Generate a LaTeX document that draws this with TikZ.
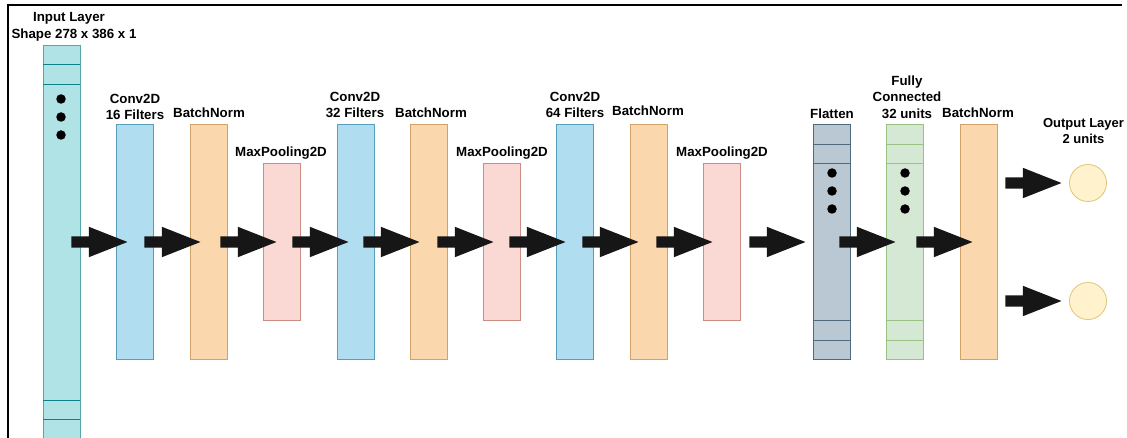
\documentclass[tikz,border=0pt]{standalone}
\usepackage{fontspec}
\setmainfont{Liberation Sans}
\usetikzlibrary{shapes.arrows}
\definecolor{inF}{HTML}{B0E3E6}\definecolor{inD}{HTML}{0E8088}
\definecolor{cvF}{HTML}{B1DDF0}\definecolor{cvD}{HTML}{10739E}
\definecolor{bnF}{HTML}{FAD7AC}\definecolor{bnD}{HTML}{B46504}
\definecolor{mpF}{HTML}{FAD9D5}\definecolor{mpD}{HTML}{AE4132}
\definecolor{flF}{HTML}{BAC8D3}\definecolor{flD}{HTML}{23445D}
\definecolor{fcF}{HTML}{D5E8D4}\definecolor{fcD}{HTML}{82B366}
\definecolor{ouF}{HTML}{FFF2CC}\definecolor{ouD}{HTML}{D6B656}
\definecolor{arrC}{HTML}{161616}
\tikzset{
  layerbox/.style={rectangle, inner sep=0pt, line width=0.9pt, minimum width=37pt},
  tall/.style={layerbox, minimum height=235pt},
  short/.style={layerbox, minimum height=157pt},
  conv/.style={tall, fill=cvF, draw=cvD!70},
  bn/.style={tall, fill=bnF, draw=bnD!60},
  mp/.style={short, fill=mpF, draw=mpD!60},
  flat/.style={tall, fill=flF, draw=flD!80},
  fcl/.style={tall, fill=fcF, draw=fcD!80},
  outc/.style={circle, inner sep=0pt, minimum size=37pt, fill=ouF, draw=ouD!80, line width=0.8pt},
  lbl/.style={inner sep=0pt, align=center, font=\fontsize{13.3}{16.3}\selectfont\bfseries},
  blockarrow/.style={single arrow, fill=arrC, draw=none, inner xsep=0pt, inner ysep=5.5pt,
    minimum height=56pt, single arrow head extend=9.5pt, single arrow tip angle=43, anchor=tip},
  dot/.style={circle, fill=black, inner sep=0pt, minimum size=9.5pt},
  sep/.style={line width=0.9pt}
}
\begin{document}
\begin{tikzpicture}[x=1pt,y=-1pt]
\useasboundingbox (0,0) rectangle (1127,438);
\begin{scope}
\clip (0,0) rectangle (1127,438);
% frame
\draw[line width=2pt] (1122,5) -- (8,5) -- (8,440);
% input layer
\node[layerbox, minimum height=420pt, fill=inF, draw=inD!70] (inp) at (61.5,255) {};
\draw[sep, draw=inD] (43,64) -- (80,64) (43,84) -- (80,84) (43,400) -- (80,400) (43,419) -- (80,419);
\node[dot] (d1) at (61,99) {};
\node[dot] (d2) at (61,117) {};
\node[dot] (d3) at (61,135) {};
% layers
\node[conv] (c1) at (135,241.5) {};
\node[bn]   (b1) at (208.5,241.5) {};
\node[mp]   (m1) at (281.5,241.5) {};
\node[conv] (c2) at (355.5,241.5) {};
\node[bn]   (b2) at (428.5,241.5) {};
\node[mp]   (m2) at (501.5,241.5) {};
\node[conv] (c3) at (575,241.5) {};
\node[bn]   (b3) at (648.5,241.5) {};
\node[mp]   (m3) at (721.5,241.5) {};
\node[flat] (fl) at (832,241.5) {};
\draw[sep, draw=flD!80] (fl.west |- 0,144) -- (fl.east |- 0,144) (fl.west |- 0,163) -- (fl.east |- 0,163)
  (fl.west |- 0,320) -- (fl.east |- 0,320) (fl.west |- 0,340) -- (fl.east |- 0,340);
\node[dot] (fd1) at (832,173) {};
\node[dot] (fd2) at (832,191) {};
\node[dot] (fd3) at (832,209) {};
\node[fcl] (fc) at (905,241.5) {};
\draw[sep, draw=fcD!80] (fc.west |- 0,144) -- (fc.east |- 0,144) (fc.west |- 0,163) -- (fc.east |- 0,163)
  (fc.west |- 0,320) -- (fc.east |- 0,320) (fc.west |- 0,340) -- (fc.east |- 0,340);
\node[dot] (gd1) at (905,173) {};
\node[dot] (gd2) at (905,191) {};
\node[dot] (gd3) at (905,209) {};
\node[bn] (b4) at (978.5,241.5) {};
\node[outc] (o1) at (1088,183) {};
\node[outc] (o2) at (1088,301) {};
% arrows (placed by their tips)
\node[blockarrow] (a1)  at (128,242) {};
\node[blockarrow] (a2)  at (201,242) {};
\node[blockarrow] (a3)  at (277,242) {};
\node[blockarrow] (a4)  at (349,242) {};
\node[blockarrow] (a5)  at (420,242) {};
\node[blockarrow] (a6)  at (494,242) {};
\node[blockarrow] (a7)  at (566,242) {};
\node[blockarrow] (a8)  at (639,242) {};
\node[blockarrow] (a9)  at (713,242) {};
\node[blockarrow] (a10) at (806,242) {};
\node[blockarrow] (a11) at (896,242) {};
\node[blockarrow] (a12) at (973,242) {};
\node[blockarrow] (a13) at (1062,183) {};
\node[blockarrow] (a14) at (1062,301) {};
% labels
\node[lbl] (l0a) at (69,18) {Input Layer};
\node[lbl] (l0b) at (74,35) {Shape 278 x 386 x 1};
\node[lbl] (l1) at (135,107) {Conv2D\\16 Filters};
\node[lbl] (l2) at (209,113) {BatchNorm};
\node[lbl] (l3) at (281,153) {MaxPooling2D};
\node[lbl] (l4) at (355,105) {Conv2D\\32 Filters};
\node[lbl] (l5) at (431,113) {BatchNorm};
\node[lbl] (l6) at (502,153) {MaxPooling2D};
\node[lbl] (l7) at (575,105) {Conv2D\\64 Filters};
\node[lbl] (l8) at (648,111) {BatchNorm};
\node[lbl] (l9) at (722,153) {MaxPooling2D};
\node[lbl] (l10) at (832,114) {Flatten};
\node[lbl] (l11) at (907,97) {Fully\\Connected\\32 units};
\node[lbl] (l12) at (978,113) {BatchNorm};
\node[lbl, font=\fontsize{13}{16}\selectfont\bfseries] (l13) at (1083.5,131.5) {Output Layer\\2 units};
\end{scope}
\end{tikzpicture}
\end{document}
